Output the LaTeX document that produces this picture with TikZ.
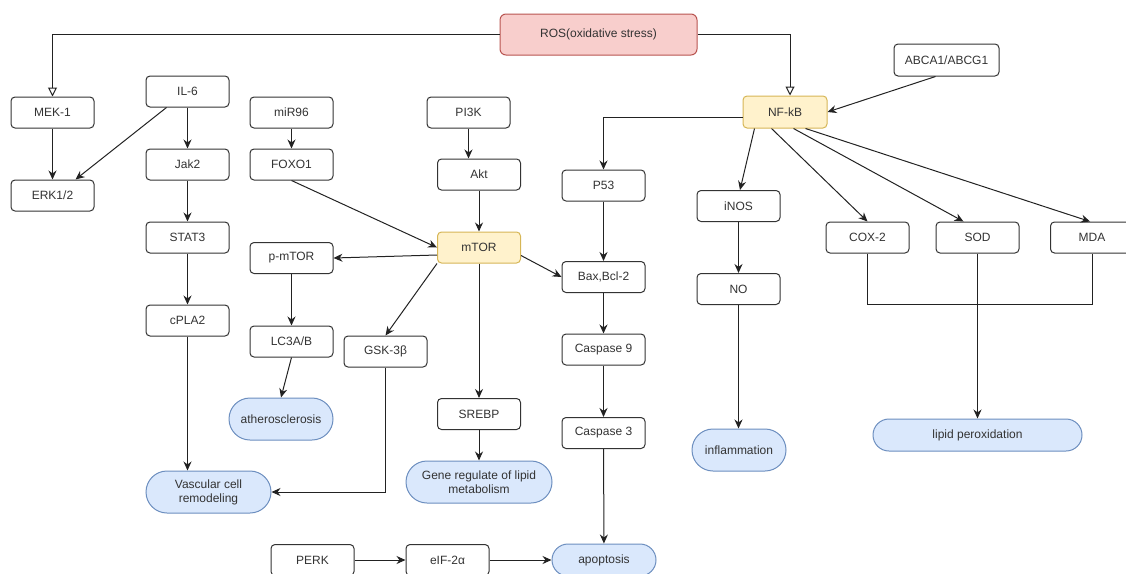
\documentclass[tikz,border=0pt]{standalone}
\usepackage{fontspec}
\setmainfont{Liberation Sans}
\usetikzlibrary{arrows.meta,calc}
\definecolor{txt}{HTML}{333333}
\definecolor{edge}{HTML}{222222}
\definecolor{rosfill}{HTML}{F8CECC}
\definecolor{rosdraw}{HTML}{B85450}
\definecolor{yfill}{HTML}{FFF2CC}
\definecolor{ydraw}{HTML}{D6B656}
\definecolor{bfill}{HTML}{DAE8FC}
\definecolor{bdraw}{HTML}{6C8EBF}
\tikzset{
  box/.style={draw=txt, line width=1pt, rounded corners=4pt, fill=white, minimum width=83pt, minimum height=31pt, inner sep=0pt, text=txt, font=\fontsize{12}{14}\selectfont, align=center},
  ybox/.style={box, fill=yfill, draw=ydraw},
  pill/.style={draw=bdraw, fill=bfill, line width=1pt, rounded corners=21pt, minimum height=42pt, inner sep=0pt, text=txt, font=\fontsize{12}{14}\selectfont, align=center},
  arr/.style={draw=edge, line width=1pt, -{Stealth[length=9pt,width=8pt]}},
  harr/.style={draw=edge, line width=1pt, -{Triangle[open,length=9pt,width=9pt,fill=white]}},
  ln/.style={draw=edge, line width=1pt}
}
\begin{document}
\begin{tikzpicture}[x=1pt,y=-1pt]
\useasboundingbox (0,0) rectangle (1126,573);
\clip (0,0) rectangle (1126,573);
% nodes
\node[box, fill=rosfill, draw=rosdraw, minimum width=197pt, minimum height=41pt, rounded corners=6pt] (ros) at (598.5,34.5) {ROS(oxidative stress)};
\node[box] (mek) at (52.5,112.5) {MEK-1};
\node[box] (erk) at (52.5,195.5) {ERK1/2};
\node[box] (il6) at (187.5,91.5) {IL-6};
\node[box] (jak) at (187.5,164.5) {Jak2};
\node[box] (stat) at (187.5,237.5) {STAT3};
\node[box] (cpla) at (187.5,320.5) {cPLA2};
\node[box] (mir) at (291.5,112.5) {miR96};
\node[box] (foxo) at (291.5,164.5) {FOXO1};
\node[box] (pi3k) at (468.5,112.5) {PI3K};
\node[box] (akt) at (479,174.5) {Akt};
\node[ybox] (mtor) at (479,247.5) {mTOR};
\node[box] (pmtor) at (291.5,258) {p-mTOR};
\node[box] (lc3) at (291.5,341.5) {LC3A/B};
\node[box] (gsk) at (385.5,351.5) {GSK-3β};
\node[box] (srebp) at (479,414) {SREBP};
\node[pill, minimum width=146pt] (gene) at (479,482) {Gene regulate of lipid\\metabolism};
\node[pill, minimum width=104pt] (ath) at (281,419) {atherosclerosis};
\node[pill, minimum width=125pt] (vasc) at (208.5,492) {Vascular cell\\remodeling};
\node[box] (perk) at (312.5,560) {PERK};
\node[box] (eif) at (447.5,560) {eIF-2α};
\node[pill, minimum width=104pt, minimum height=32pt, rounded corners=16pt] (apo) at (604,560) {apoptosis};
\node[box] (p53) at (603.5,185.5) {P53};
\node[box] (bax) at (603.5,277) {Bax,Bcl-2};
\node[box] (cas9) at (603.5,349.5) {Caspase 9};
\node[box] (cas3) at (603.5,433) {Caspase 3};
\node[ybox, minimum width=84pt, minimum height=32pt] (nfkb) at (785,112) {NF-kB};
\node[box, minimum width=105pt, minimum height=32pt] (abca) at (946.5,60) {ABCA1/ABCG1};
\node[box] (inos) at (738.5,206) {iNOS};
\node[box] (no) at (738.5,289) {NO};
\node[pill, minimum width=94pt] (infl) at (739,450) {inflammation};
\node[box] (cox) at (867.5,237.5) {COX-2};
\node[box] (sod) at (977.5,237.5) {SOD};
\node[box] (mda) at (1092,237.5) {MDA};
\node[pill, minimum width=209pt, minimum height=32pt, rounded corners=16pt] (lp) at (977.5,435) {lipid peroxidation};
% connectors
\draw[harr] (ros.west) -| (mek.north);
\draw[harr] (ros.east) -| ([xshift=5pt]nfkb.north);
\draw[arr] (mek) -- (erk);
\draw[arr] ([xshift=-21pt]il6.south) -- ([xshift=-19pt]erk.north east);
\draw[arr] (il6) -- (jak);
\draw[arr] (jak) -- (stat);
\draw[arr] (stat) -- (cpla);
\draw[arr] (cpla) -- (cpla.south |- vasc.north);
\draw[arr] (mir) -- (foxo);
\draw[arr] (foxo.south) -- (mtor.west);
\draw[arr] (pi3k) -- (pi3k.south |- akt.north);
\draw[arr] (akt) -- (mtor);
\draw[arr] ([yshift=-7.5pt]mtor.west) -- (pmtor.east);
\draw[arr] (mtor.south west) -- (gsk.north);
\draw[arr] (mtor) -- (srebp);
\draw[arr] ([yshift=-8pt]mtor.east) -- (bax.west);
\draw[arr] (pmtor) -- (lc3);
\draw[arr] (lc3.south) -- (ath.north);
\draw[arr] (gsk.south) |- (vasc.east);
\draw[arr] (srebp) -- (gene);
\draw[arr] ([yshift=-5pt]nfkb.west) -| (p53.north);
\draw[arr] (p53) -- (bax);
\draw[arr] (bax) -- (cas9);
\draw[arr] (cas9) -- (cas3);
\draw[arr] (cas3) -- (apo);
\draw[arr] (perk) -- (eif);
\draw[arr] (eif) -- (apo);
\draw[arr] ([xshift=12pt]nfkb.south west) -- ([xshift=1.5pt]inos.north);
\draw[arr] ([xshift=29pt]nfkb.south west) -- (cox.north);
\draw[arr] ([xshift=51pt]nfkb.south west) -- ([xshift=-14pt]sod.north);
\draw[arr] ([xshift=63pt]nfkb.south west) -- ([xshift=-2pt]mda.north);
\draw[arr] ([xshift=-11pt]abca.south) -- (nfkb.east);
\draw[arr] (inos) -- (no);
\draw[arr] (no) -- (no.south |- infl.north);
\draw[ln] (cox.south) -- ++(0,51) -| (mda.south);
\draw[arr] (sod) -- (lp);
\end{tikzpicture}
\end{document}
